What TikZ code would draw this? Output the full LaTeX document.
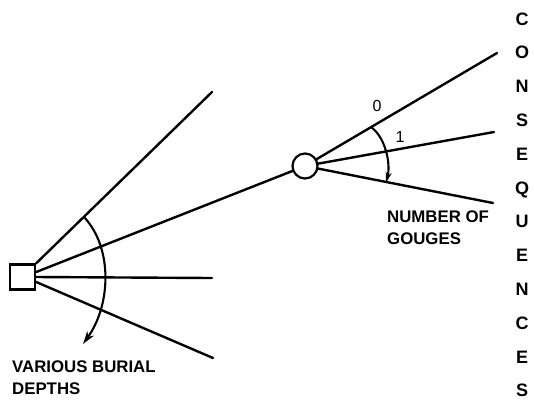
\documentclass[tikz,border=0pt]{standalone}
\usepackage{fontspec}
\setmainfont{Liberation Sans}
\usetikzlibrary{arrows.meta}
\tikzset{
  ln/.style={line width=2.4pt, line cap=round},
  arcln/.style={line width=2.1pt},
  lbl/.style={font=\fontsize{16.8}{19}\selectfont\bfseries, inner sep=0pt, anchor=base west},
  cq/.style={font=\fontsize{18}{20}\selectfont\bfseries, inner sep=0pt, anchor=base},
  num/.style={font=\fontsize{16}{18}\selectfont, inner sep=0pt},
}
\begin{document}
\begin{tikzpicture}[x=1pt,y=-1pt]
\useasboundingbox (0,0) rectangle (534,402);
% decision square and chance circle
\node[draw, line width=2.2pt, minimum size=25pt, inner sep=0pt] (sq) at (22.5,277) {};
\node[draw, circle, line width=2.2pt, minimum size=25pt, inner sep=0pt] (ci) at (305,166) {};
% end points
\coordinate (a1) at (212,92);
\coordinate (a3) at (212,278);
\coordinate (a4) at (213,358);
\coordinate (b1) at (497,53);
\coordinate (b2) at (494,132);
\coordinate (b3) at (493,203);
% left fan
\draw[ln] (sq.north east) -- (a1);
\draw[ln] (sq.20) -- (ci);
\draw[ln] (sq.east) -- (a3);
\draw[ln] (sq.-20) -- (a4);
% right fan
\draw[ln] (ci) -- (b1);
\draw[ln] (ci) -- (b2);
\draw[ln] (ci) -- (b3);
% arcs with arrows
\coordinate (la) at (84,217);
\coordinate (lb) at (83,344);
\draw[arcln, -{Stealth[length=13pt,width=8pt]}] (la) .. controls (113,248) and (111,305) .. (lb);
\coordinate (ra) at (371,127);
\coordinate (rb) at (386,183);
\draw[arcln, -{Stealth[length=11pt,width=6pt]}] (ra) .. controls (385,137) and (391,163) .. (rb);
% labels
\node[num] (n0) at (377,106) {0};
\node[num] (n1) at (400,137) {1};
\node[lbl] (v1) at (12,372) {VARIOUS BURIAL};
\node[lbl] (v2) at (12,394) {DEPTHS};
\node[lbl] (g1) at (387,222) {NUMBER OF};
\node[lbl] (g2) at (387,244) {GOUGES};
% CONSEQUENCES
\foreach \l [count=\i from 0] in {C,O,N,S,E,Q,U,E,N,C,E,S} {
  \node[cq] (c\i) at (522,25+33.8*\i) {\l};
}
\end{tikzpicture}
\end{document}
